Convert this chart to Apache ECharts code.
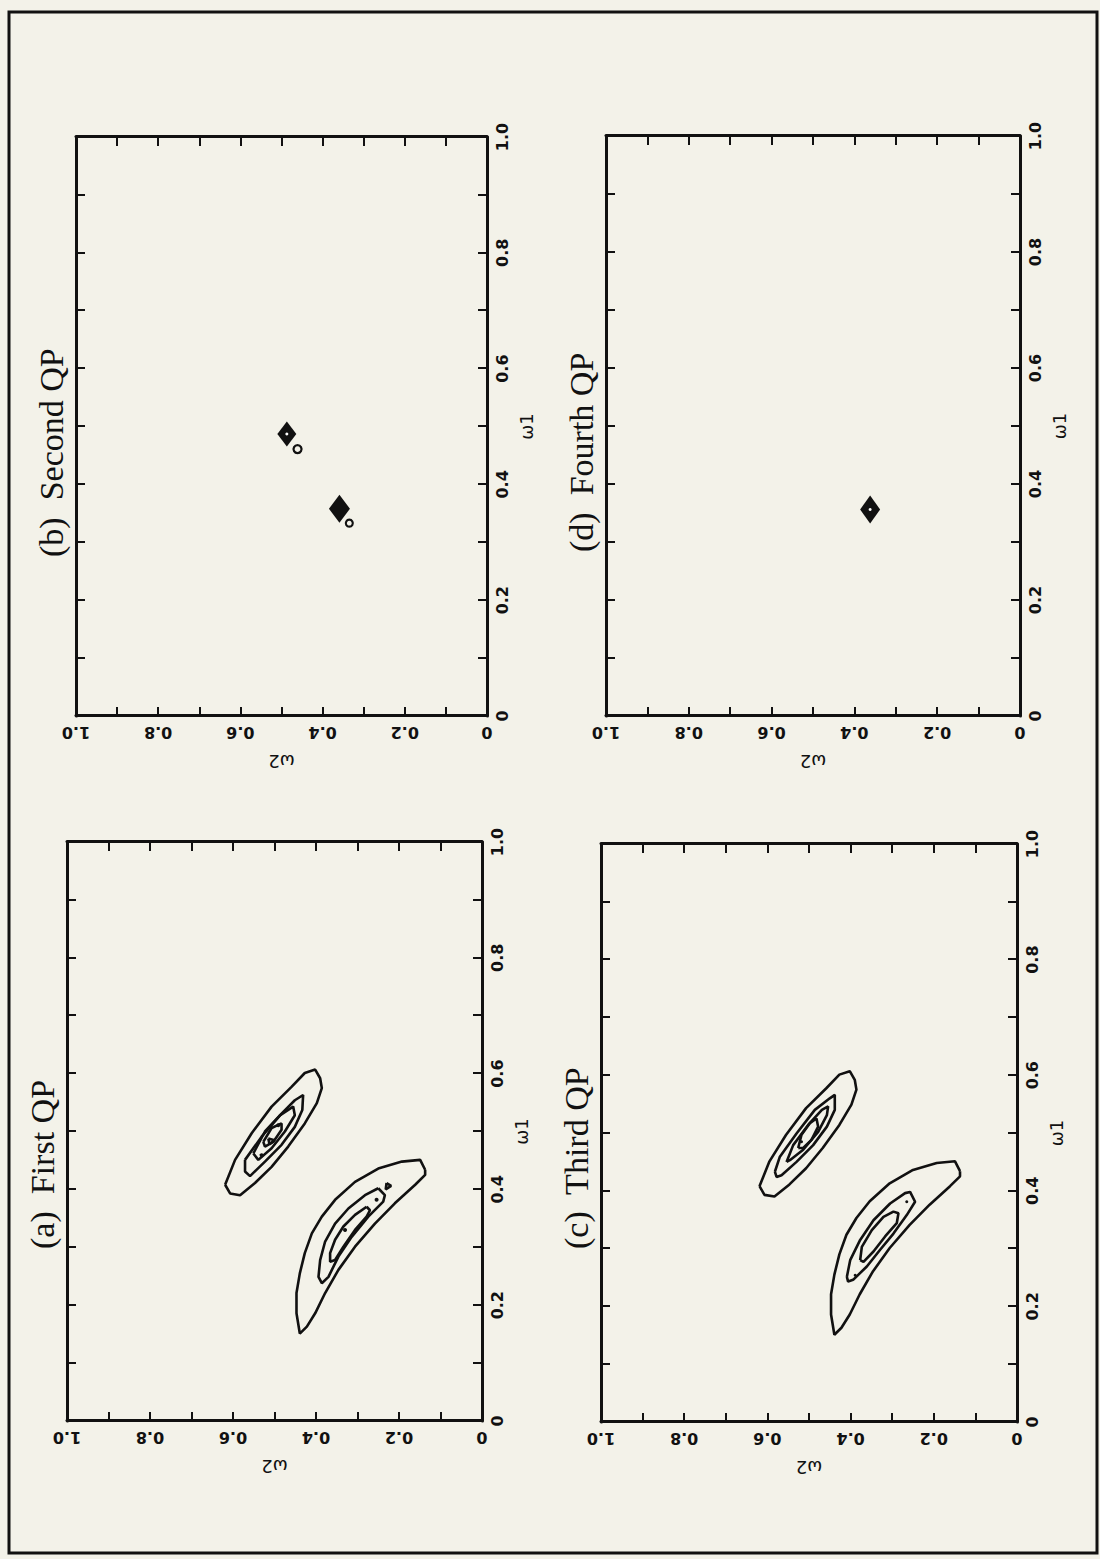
<!DOCTYPE html>
<html>
<head>
<meta charset="utf-8">
<title>QP spectra</title>
<script src="https://cdn.jsdelivr.net/npm/echarts@6/dist/echarts.min.js"></script>
<style>
  html, body { margin: 0; padding: 0; width: 1100px; height: 1559px; overflow: hidden; background: #f3f2e9; }
  /* The figure is laid out as a landscape page and turned a quarter turn onto the portrait sheet. */
  #page {
    position: absolute; left: 0; top: 0;
    width: 1559px; height: 1100px;
    transform-origin: 0 0;
    transform: translate(0px, 1559px) rotate(-90deg);
  }
</style>
</head>
<body>
<div id="page"></div>
<script>
// ---- axis tick labels (both axes run 0..1) ----
const tickLabels = ['0', '0.2', '0.4', '0.6', '0.8', '1.0'];
const panelTitles = ['(a)\u00a0 First QP', '(b)\u00a0 Second QP', '(c)\u00a0 Third QP', '(d)\u00a0 Fourth QP'];

// ---- contour lines, points are [w1, w2] ----
// outermost level, same in the first and third QP
const upperOuter = [[0.408,0.619],[0.451,0.595],[0.497,0.555],[0.543,0.507],[0.577,0.459],[0.601,0.427],[0.607,0.402],[0.592,0.390],[0.575,0.386],[0.549,0.398],[0.514,0.427],[0.474,0.467],[0.439,0.507],[0.411,0.547],[0.390,0.583],[0.393,0.607],[0.408,0.619]];
const lowerOuter = [[0.434,0.137],[0.451,0.149],[0.448,0.193],[0.436,0.250],[0.413,0.306],[0.382,0.354],[0.353,0.386],[0.324,0.410],[0.290,0.427],[0.255,0.439],[0.221,0.447],[0.186,0.447],[0.151,0.439],[0.163,0.422],[0.186,0.402],[0.221,0.378],[0.261,0.346],[0.301,0.306],[0.341,0.258],[0.376,0.210],[0.408,0.161],[0.425,0.137],[0.434,0.137]];

// first QP, inner levels
const firstUpper2 = [[0.451,0.571],[0.491,0.531],[0.531,0.483],[0.554,0.451],[0.563,0.431],[0.537,0.433],[0.508,0.451],[0.477,0.483],[0.448,0.523],[0.423,0.559],[0.431,0.571],[0.451,0.571]];
const firstUpper3 = [[0.462,0.551],[0.500,0.523],[0.528,0.487],[0.543,0.455],[0.528,0.451],[0.500,0.475],[0.471,0.507],[0.451,0.539],[0.462,0.551]];
const firstUpper4 = [[0.482,0.527],[0.506,0.507],[0.514,0.483],[0.503,0.483],[0.482,0.503],[0.474,0.523],[0.482,0.527]];
const firstUpper5 = [[0.488,0.515],[0.485,0.500],[0.478,0.512],[0.488,0.515]];
const firstLower2 = [[0.402,0.250],[0.390,0.282],[0.367,0.322],[0.341,0.354],[0.310,0.378],[0.278,0.390],[0.249,0.394],[0.238,0.386],[0.249,0.370],[0.284,0.346],[0.318,0.314],[0.353,0.274],[0.379,0.238],[0.390,0.234],[0.402,0.250]];
const firstLower3 = [[0.370,0.278],[0.356,0.306],[0.336,0.334],[0.313,0.354],[0.290,0.366],[0.275,0.366],[0.278,0.354],[0.301,0.334],[0.330,0.306],[0.353,0.278],[0.364,0.270],[0.370,0.278]];
const firstLower4 = [[0.411,0.230],[0.406,0.219],[0.400,0.232],[0.411,0.230]];
const firstDots = [[0.459,0.531],[0.511,0.491],[0.330,0.330],[0.382,0.254]];

// third QP, inner levels
const thirdUpper2 = [[0.433,0.582],[0.459,0.570],[0.499,0.530],[0.540,0.486],[0.560,0.450],[0.566,0.438],[0.540,0.438],[0.511,0.457],[0.479,0.490],[0.450,0.530],[0.427,0.566],[0.424,0.578],[0.433,0.582]];
const thirdUpper3 = [[0.450,0.554],[0.479,0.538],[0.514,0.502],[0.540,0.469],[0.546,0.454],[0.531,0.457],[0.502,0.478],[0.471,0.514],[0.453,0.546],[0.450,0.554]];
const thirdUpper4 = [[0.474,0.526],[0.497,0.518],[0.517,0.498],[0.525,0.482],[0.511,0.478],[0.488,0.494],[0.474,0.514],[0.474,0.526]];
const thirdLower2 = [[0.251,0.409],[0.280,0.401],[0.315,0.377],[0.349,0.345],[0.378,0.305],[0.396,0.269],[0.398,0.257],[0.381,0.245],[0.358,0.265],[0.326,0.297],[0.298,0.329],[0.269,0.361],[0.246,0.394],[0.243,0.406],[0.251,0.409]];
const thirdLower3 = [[0.280,0.377],[0.303,0.373],[0.332,0.349],[0.355,0.321],[0.364,0.297],[0.361,0.285],[0.344,0.289],[0.321,0.317],[0.295,0.345],[0.277,0.369],[0.280,0.377]];
const thirdDots = [[0.485,0.518],[0.254,0.389],[0.381,0.265]];

// second and fourth QP: sharp peaks [w1, w2]
const secondPeaks = [[0.487, 0.487], [0.358, 0.359]];
const secondPeakSizes = [[25, 19], [28, 21]];
const secondSpots = [[0.461, 0.461], [0.333, 0.335]];
const secondSpotSizes = [8, 7];
const fourthPeaks = [[0.356, 0.362]];
const fourthPeakSizes = [[28, 20]];

// ---- layout ----
const INK = '#111111';
const PAPER = '#f3f2e9';
const grids = [
  { left: 138, top: 67,  width: 579, height: 415 },   // (a)
  { left: 843, top: 76,  width: 579, height: 411 },   // (b)
  { left: 137, top: 601, width: 578, height: 416 },   // (c)
  { left: 843, top: 606, width: 580, height: 414 }    // (d)
];

const labelFont = { fontFamily: 'DejaVu Sans', fontSize: 16, fontWeight: 'bold', color: INK };
const nameFont = { fontFamily: 'DejaVu Sans', fontSize: 18, color: INK };

function axisCommon(gridIndex, position) {
  return {
    gridIndex, type: 'value', min: 0, max: 1, interval: 0.2, position,
    axisLine: { show: true, onZero: false, lineStyle: { color: INK, width: 3 } },
    axisTick: { show: true, inside: true, length: 9, lineStyle: { color: INK, width: 2 } },
    minorTick: { show: true, splitNumber: 2, length: 9, lineStyle: { color: INK, width: 2 } },
    splitLine: { show: false }, minorSplitLine: { show: false },
    axisLabel: { show: false }
  };
}

const xAxes = [], yAxes = [];
grids.forEach((g, i) => {
  const xb = axisCommon(i, 'bottom');
  xb.axisLabel = Object.assign({ show: true, margin: 7, formatter: v => tickLabels[Math.round(v * 5)] }, labelFont);
  xb.name = 'ω1'; xb.nameLocation = 'middle'; xb.nameGap = 30; xb.nameTextStyle = nameFont;
  xAxes.push(xb, axisCommon(i, 'top'));
  const yl = axisCommon(i, 'left');
  yl.axisLabel = Object.assign({ show: true, margin: 8, rotate: 90, formatter: v => tickLabels[Math.round(v * 5)] }, labelFont);
  yl.name = 'ω2'; yl.nameLocation = 'middle'; yl.nameGap = 36; yl.nameRotate = 90; yl.nameTextStyle = nameFont;
  yAxes.push(yl, axisCommon(i, 'right'));
});

// each panel draws on its bottom/left axis pair
const axisOf = panel => ({ xAxisIndex: panel * 2, yAxisIndex: panel * 2 });

const series = [];
function contour(panel, pts) {
  series.push(Object.assign({
    type: 'line', data: pts, symbol: 'none', smooth: false, silent: true,
    lineStyle: { color: INK, width: 2.6 }
  }, axisOf(panel)));
}
function dots(panel, pts, size) {
  series.push(Object.assign({
    type: 'scatter', data: pts, symbol: 'circle', symbolSize: size, silent: true,
    itemStyle: { color: INK, opacity: 1 }
  }, axisOf(panel)));
}

// (a) first QP
[upperOuter, firstUpper2, firstUpper3, firstUpper4, firstUpper5,
 lowerOuter, firstLower2, firstLower3, firstLower4].forEach(c => contour(0, c));
dots(0, firstDots, 4);

// (c) third QP
[upperOuter, thirdUpper2, thirdUpper3, thirdUpper4,
 lowerOuter, thirdLower2, thirdLower3].forEach(c => contour(2, c));
dots(2, thirdDots, 3);

// (b) second QP
series.push(Object.assign({
  type: 'scatter', symbol: 'diamond', silent: true,
  data: secondPeaks.map((p, k) => ({ value: p, symbolSize: secondPeakSizes[k] })),
  itemStyle: { color: INK, opacity: 1 }
}, axisOf(1)));
series.push(Object.assign({
  type: 'scatter', symbol: 'circle', silent: true,
  data: secondSpots.map((p, k) => ({ value: p, symbolSize: secondSpotSizes[k] })),
  itemStyle: { color: PAPER, borderColor: INK, borderWidth: 2.2, opacity: 1 }
}, axisOf(1)));
series.push(Object.assign({
  type: 'scatter', symbol: 'circle', silent: true,
  data: [secondPeaks[0]], symbolSize: 3, itemStyle: { color: '#ffffff', opacity: 1 }
}, axisOf(1)));

// (d) fourth QP
series.push(Object.assign({
  type: 'scatter', symbol: 'diamond', silent: true,
  data: fourthPeaks.map((p, k) => ({ value: p, symbolSize: fourthPeakSizes[k] })),
  itemStyle: { color: INK, opacity: 1 }
}, axisOf(3)));
series.push(Object.assign({
  type: 'scatter', symbol: 'circle', silent: true,
  data: fourthPeaks, symbolSize: 3, itemStyle: { color: '#ffffff', opacity: 1 }
}, axisOf(3)));

const titleCentres = [42, 51, 576, 581];
const titleLefts = [310, 1002, 310, 1007];
const titles = panelTitles.map((t, i) => ({
  text: t, left: titleLefts[i], top: titleCentres[i] - 17, padding: 0,
  textStyle: { fontFamily: 'Liberation Serif', fontSize: 34, fontWeight: 'normal', color: INK, lineHeight: 34 }
}));

const chart = echarts.init(document.getElementById('page'), null, { renderer: 'svg' });
chart.setOption({
  animation: false,
  backgroundColor: PAPER,
  title: titles,
  grid: grids.map(g => Object.assign({ outerBoundsMode: 'none', containLabel: false }, g)),
  xAxis: xAxes,
  yAxis: yAxes,
  series: series,
  graphic: [{
    type: 'rect', silent: true,
    shape: { x: 6, y: 9, width: 1541, height: 1088 },
    style: { fill: 'none', stroke: INK, lineWidth: 3 }
  }]
});
</script>
</body>
</html>
